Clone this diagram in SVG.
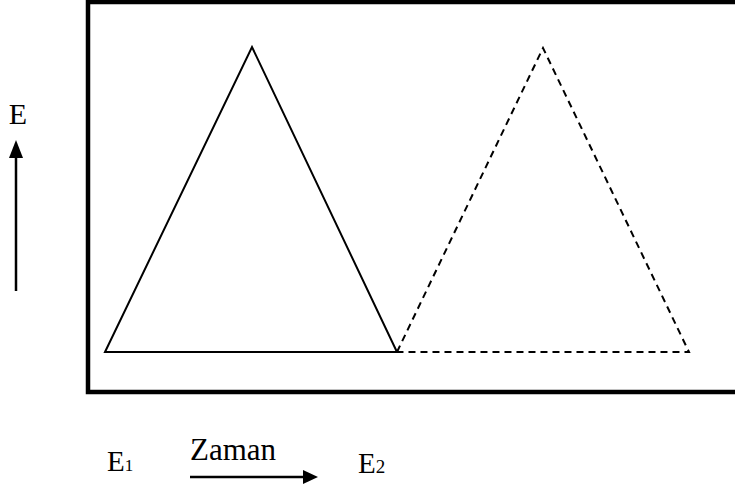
<svg xmlns="http://www.w3.org/2000/svg" width="735" height="492" viewBox="0 0 735 492">
<defs>
<style>
.t{font-family:"Liberation Serif","Times New Roman",serif;fill:#000}
.solid{fill:none;stroke:#000;stroke-width:2}
.dash{fill:none;stroke:#000;stroke-width:2;stroke-dasharray:7,5}
</style>
</defs>
<rect x="0" y="0" width="735" height="492" fill="#fff"/>
<g id="frame"><rect x="88" y="2" width="660" height="390" fill="none" stroke="#000" stroke-width="4.5"/></g>
<g id="triangle1"><polygon class="solid" points="105,352 252,47 397,352"/></g>
<g id="triangle2"><path class="dash" d="M397,352 L543,48 L689,352 L397,352"/></g>
<g id="labels">
<text class="t" x="18" y="124" font-size="30" text-anchor="middle">E</text>
<text class="t" x="107" y="471" font-size="29">E<tspan font-size="17">1</tspan></text>
<text class="t" x="190" y="460" font-size="31">Zaman</text>
<text class="t" x="358" y="473" font-size="29">E<tspan font-size="19">2</tspan></text>
</g>
<g id="connectors">
<line x1="16" y1="291" x2="16" y2="158" stroke="#000" stroke-width="2.5"/>
<polygon points="16,140 9,158 23,158" fill="#000"/>
<line x1="190" y1="477" x2="304" y2="477" stroke="#000" stroke-width="2.5"/>
<polygon points="318,477 303,470 303,484" fill="#000"/>
</g>
</svg>
